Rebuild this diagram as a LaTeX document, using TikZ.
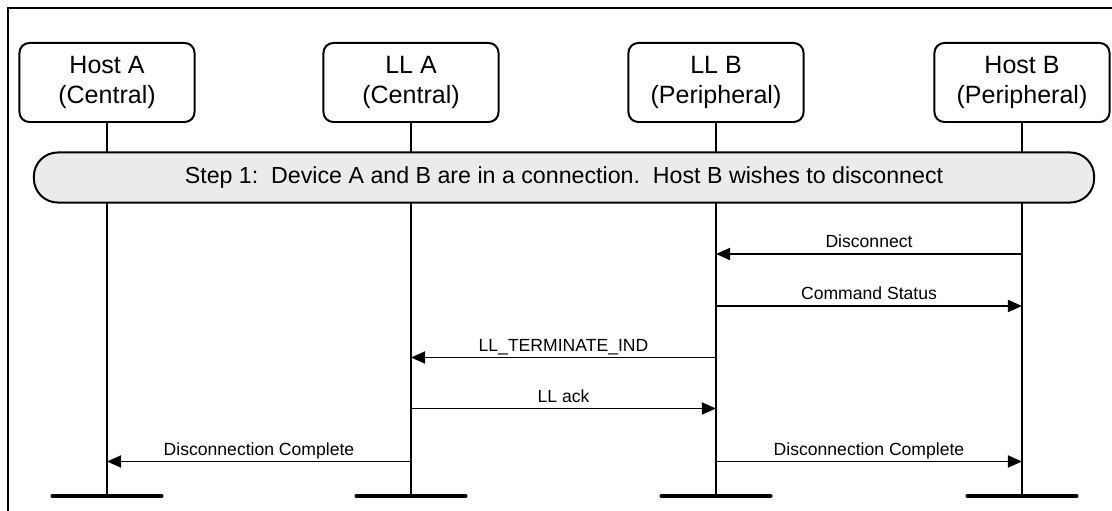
\documentclass[tikz,border=0pt]{standalone}
\usepackage{fontspec}
\setmainfont{Liberation Sans}
\usetikzlibrary{arrows.meta}

\begin{document}
\begin{tikzpicture}[x=0.025cm, y=-0.025cm, line width=1.4pt,
        actor/.style={draw, rounded corners=7pt, align=center, minimum width=124.5pt, minimum height=56.2pt,
            font=\fontsize{17.8}{21.5}\selectfont},
        stepbox/.style={draw, fill=black!8, rounded corners=17pt, minimum width=754pt, minimum height=35.6pt,
            font=\fontsize{16.5}{19}\selectfont},
        msg/.style={-{Triangle[length=10pt, width=8.5pt]}},
        msglabel/.style={anchor=base, yshift=4.5pt, inner sep=0pt, font=\fontsize{12.5}{15}\selectfont},
        endbar/.style={line width=2.85pt, line cap=round}]
                \useasboundingbox (0,0) rectangle (1112,511);
                \draw (8,530) |- (1130,8);
                % actors
                \node[actor] (hostA) at (107,82.5) {Host A\\(Central)};
                \node[actor] (llA) at (411,82.5) {LL A\\(Central)};
                \node[actor] (llB) at (716,82.5) {LL B\\(Peripheral)};
                \node[actor] (hostB) at (1022,82.5) {Host B\\(Peripheral)};
                \coordinate (bottom) at (0,496);
                \draw (hostA) -- (hostA |- bottom);
                \draw (llA) -- (llA |- bottom);
                \draw (llB) -- (llB |- bottom);
                \draw (hostB) -- (hostB |- bottom);
                \node[stepbox] (step) at (564,177.5) {Step 1:\ \ Device A and B are in a connection.\ \ Host B wishes to disconnect};
                % messages
                \coordinate (m1) at (0,254);
                \coordinate (m2) at (0,306);
                \coordinate (m3) at (0,357.5);
                \coordinate (m4) at (0,408.5);
                \coordinate (m5) at (0,461.5);
                \draw[msg] (hostB |- m1) -- node[msglabel] {Disconnect} (llB |- m1);
                \draw[msg] (llB |- m2) -- node[msglabel] {Command Status} (hostB |- m2);
                \draw[msg] (llB |- m3) -- node[msglabel] {LL\_TERMINATE\_IND} (llA |- m3);
                \draw[msg] (llA |- m4) -- node[msglabel] {LL ack} (llB |- m4);
                \draw[msg] (llA |- m5) -- node[msglabel] {Disconnection Complete} (hostA |- m5);
                \draw[msg] (llB |- m5) -- node[msglabel] {Disconnection Complete} (hostB |- m5);
                % ends of the lifelines
                \draw[endbar] ([xshift=-38.8pt]hostA |- bottom) -- ([xshift=38.8pt]hostA |- bottom);
                \draw[endbar] ([xshift=-38.8pt]llA |- bottom) -- ([xshift=38.8pt]llA |- bottom);
                \draw[endbar] ([xshift=-38.8pt]llB |- bottom) -- ([xshift=38.8pt]llB |- bottom);
                \draw[endbar] ([xshift=-38.8pt]hostB |- bottom) -- ([xshift=38.8pt]hostB |- bottom);
            \end{tikzpicture}
\end{document}
